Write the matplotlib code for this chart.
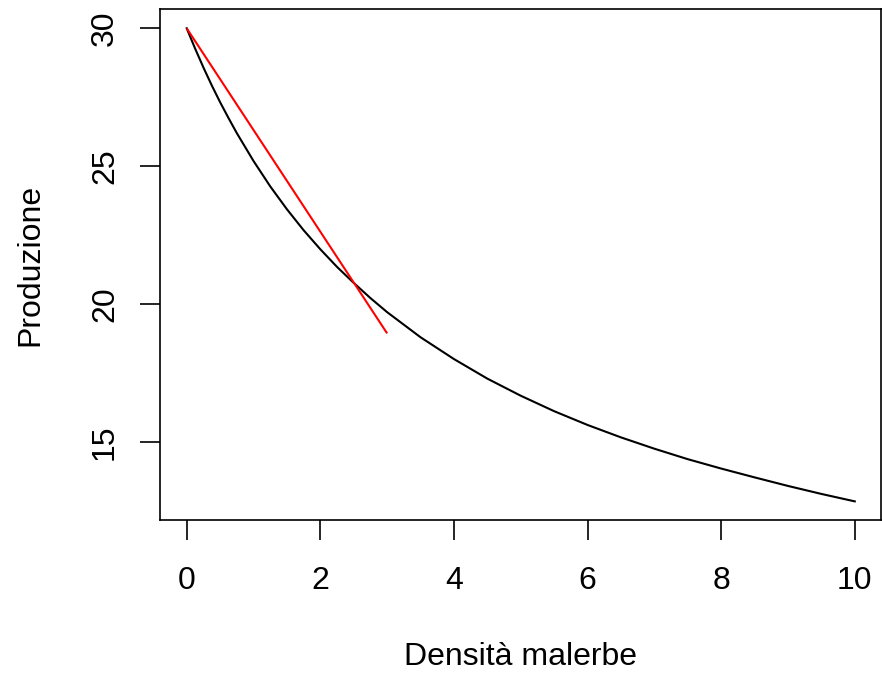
import matplotlib
matplotlib.use("Agg")
import matplotlib.pyplot as plt

# Curve (Produzione vs Densità malerbe)
density = [0, 0.125, 0.25, 0.375, 0.5, 0.625, 0.75, 1, 1.25, 1.5, 1.75, 2,
           2.25, 2.5, 2.75, 3, 3.5, 4, 4.5, 5, 5.5, 6, 6.5, 7, 7.5, 8,
           8.5, 9, 9.5, 10]
production = [30.0, 29.27, 28.58, 27.93, 27.32, 26.75, 26.20, 25.19, 24.27,
              23.44, 22.68, 21.99, 21.35, 20.77, 20.22, 19.71, 18.80, 18.01,
              17.30, 16.68, 16.12, 15.62, 15.17, 14.76, 14.38, 14.04, 13.72,
              13.41, 13.12, 12.85]

# Red straight line
line_x = [0, 3]
line_y = [30.0, 18.94]

xticks = [0, 2, 4, 6, 8, 10]
yticks = [15, 20, 25, 30]

plt.rcParams['font.family'] = ['Liberation Sans', 'DejaVu Sans']

W, H = 882, 673
fig = plt.figure(figsize=(W / 100, H / 100), dpi=100)
left, right, top, bottom = 160, 881.5, 9.4, 520.3
ax = fig.add_axes([left / W, (H - bottom) / H, (right - left) / W, (bottom - top) / H])

ax.plot(density, production, color='black', lw=1.5, solid_joinstyle='round')
ax.plot(line_x, line_y, color='red', lw=1.5, solid_capstyle='butt')

# R-style 4% padding
xmin, xmax = min(density), max(density)
ymin, ymax = min(production), max(production)
dx = (xmax - xmin) * 0.04
dy = (ymax - ymin) * 0.04
ax.set_xlim(xmin - dx, xmax + dx)
ax.set_ylim(ymin - dy, ymax + dy)

ax.set_xticks(xticks)
ax.set_yticks(yticks)
ax.set_xticklabels([str(t) for t in xticks])
ax.set_yticklabels([str(t) for t in yticks], rotation=90, va='center')

ax.tick_params(axis='both', length=14.4, width=1.2, labelsize=23, color='black')
ax.tick_params(axis='x', pad=18.5)
ax.tick_params(axis='y', pad=14.4)

for s in ax.spines.values():
    s.set_linewidth(1.2)
    s.set_color('black')

ax.set_xlabel('Densità malerbe', fontsize=23)
ax.xaxis.label.set_va('baseline')
ax.xaxis.set_label_coords(0.5, (H - 665 - (H - bottom)) / (bottom - top))

ax.set_ylabel('Produzione', fontsize=23)
ax.yaxis.label.set_va('baseline')
ax.yaxis.set_label_coords((38.3 - left) / (right - left), 0.5)

fig.savefig('out.png', dpi=100)
